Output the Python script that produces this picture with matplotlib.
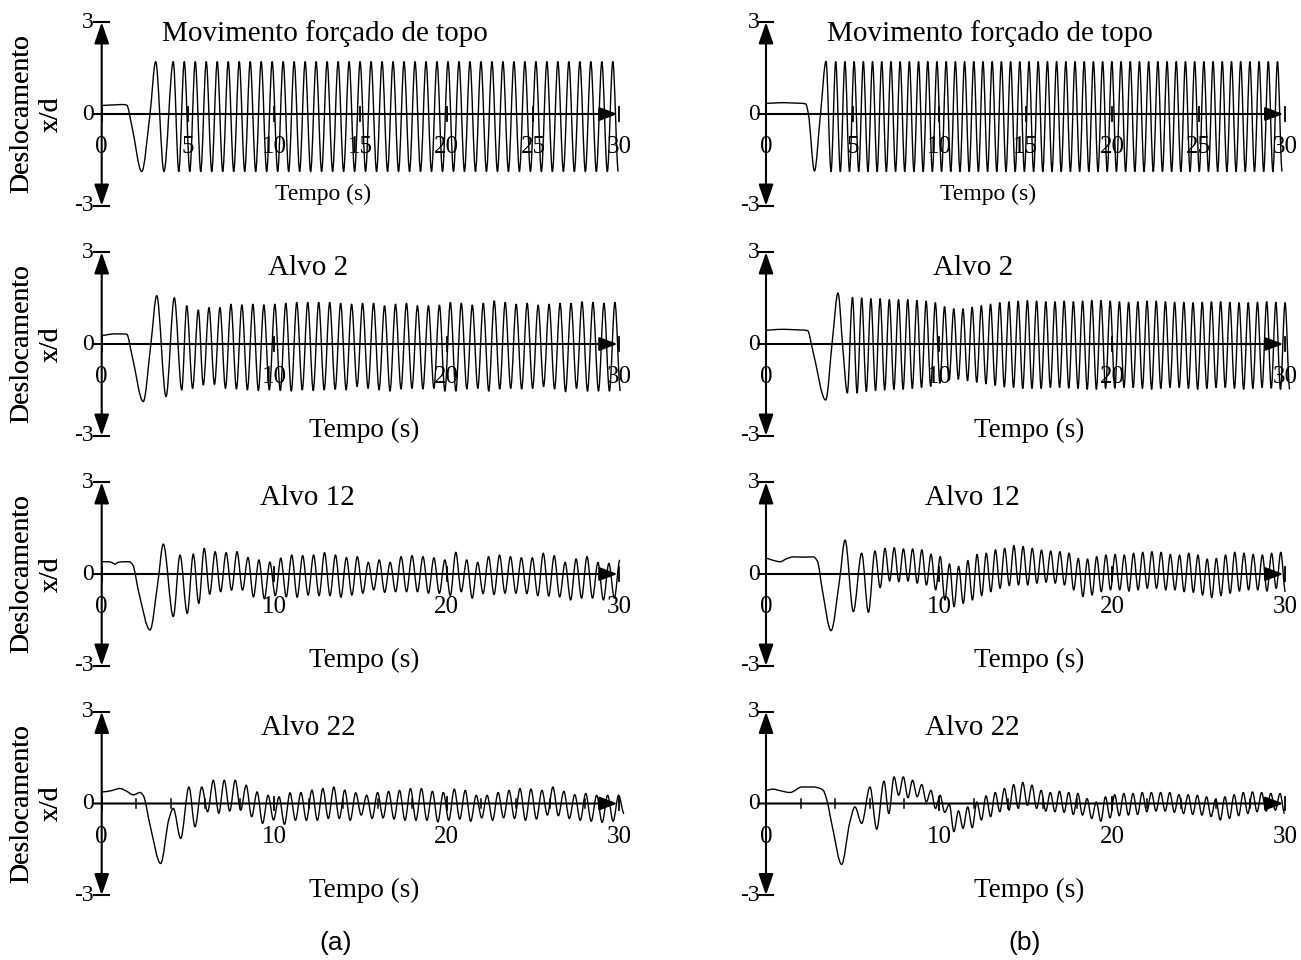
import numpy as np
import matplotlib
matplotlib.use('Agg')
import matplotlib.pyplot as plt
from matplotlib.path import Path
from matplotlib.patches import PathPatch

# ================= DATA =================
# Each panel: transient points (t, x/d), then regular cycles starting at a peak
# at time ts with period P; peaks[i] and troughs[i] (trough follows the peak).

# ---- (a) Movimento forçado de topo
a1_tr_t = [0.0, 0.4, 0.8, 1.2, 1.45, 1.75, 2.32, 2.8, 3.13, 3.61]
a1_tr_x = [0.28, 0.29, 0.30, 0.31, 0.29, -0.4, -1.88, 0.0, 1.71, -1.88]
a1_ts, a1_P = 4.15, 0.637
a1_pk = [1.71, 1.71, 1.71, 1.71, 1.71, 1.71, 1.71, 1.71, 1.71, 1.71,
         1.71, 1.71, 1.71, 1.71, 1.71, 1.71, 1.71, 1.71, 1.71, 1.71,
         1.71, 1.71, 1.71, 1.71, 1.71, 1.71, 1.71, 1.71, 1.71, 1.71,
         1.71, 1.71, 1.71, 1.71, 1.71, 1.71, 1.71, 1.71, 1.71, 1.71, 1.71]
a1_tg = [-1.88, -1.88, -1.88, -1.88, -1.88, -1.88, -1.88, -1.88, -1.88, -1.88,
         -1.88, -1.88, -1.88, -1.88, -1.88, -1.88, -1.88, -1.88, -1.88, -1.88,
         -1.88, -1.88, -1.88, -1.88, -1.88, -1.88, -1.88, -1.88, -1.88, -1.88,
         -1.88, -1.88, -1.88, -1.88, -1.88, -1.88, -1.88, -1.88, -1.88, -1.88, -1.88]

# ---- (a) Alvo 2
a2_tr_t = [0.0, 0.3, 0.7, 1.1, 1.45, 1.75, 2.41, 2.85, 3.19, 3.73, 4.21, 4.64, 4.93, 5.27,
           5.6, 5.89]
a2_tr_x = [0.28, 0.30, 0.33, 0.33, 0.32, -0.35, -1.88, 0.0, 1.58, -1.72, 1.51, -1.50, 1.25,
           -1.45, 1.11, -1.34]
a2_ts, a2_P = 6.22, 0.636
a2_pk = [1.19, 1.19, 1.30, 1.28, 1.30, 1.28, 1.30, 1.33, 1.36, 1.36, 1.36, 1.36, 1.33, 1.30,
         1.33, 1.33, 1.25, 1.30, 1.33, 1.25, 1.25, 1.27, 1.36, 1.33, 1.27, 1.33, 1.41, 1.36,
         1.30, 1.33, 1.27, 1.30, 1.33, 1.33, 1.38, 1.36, 1.33, 1.36]
a2_tg = [-1.32, -1.45, -1.47, -1.50, -1.52, -1.50, -1.52, -1.54, -1.50, -1.52, -1.50, -1.48,
         -1.50, -1.39, -1.45, -1.50, -1.54, -1.47, -1.45, -1.47, -1.45, -1.54, -1.54, -1.47,
         -1.45, -1.54, -1.47, -1.45, -1.47, -1.45, -1.39, -1.47, -1.56, -1.45, -1.54, -1.54,
         -1.54, -1.54]

# ---- (a) Alvo 12
a3_tr_t = [0.0, 0.4, 0.65, 0.77, 0.95, 1.3, 1.6, 1.8, 2.15, 2.8, 3.25, 3.57, 4.15, 4.54,
           4.96]
a3_tr_x = [0.40, 0.40, 0.36, 0.32, 0.38, 0.40, 0.40, 0.30, -0.6, -1.83, -0.3, 0.98, -1.39,
           0.62, -1.29]
a3_ts, a3_P = 5.31, 0.634
a3_pk = [0.65, 0.84, 0.73, 0.70, 0.73, 0.54, 0.46, 0.39, 0.52, 0.62, 0.60, 0.62, 0.70, 0.62,
         0.54, 0.57, 0.38, 0.46, 0.38, 0.57, 0.60, 0.57, 0.53, 0.46, 0.71, 0.46, 0.38, 0.57,
         0.62, 0.57, 0.53, 0.53, 0.68, 0.60, 0.38, 0.49, 0.57, 0.38, 0.35, 0.46]
a3_tg = [-0.96, -0.66, -0.58, -0.53, -0.53, -0.75, -0.81, -0.71, -0.75, -0.76, -0.69, -0.71,
         -0.71, -0.76, -0.69, -0.63, -0.52, -0.60, -0.58, -0.58, -0.58, -0.63, -0.63, -0.71,
         -0.58, -0.79, -0.64, -0.67, -0.63, -0.63, -0.64, -0.71, -0.72, -0.75, -0.85, -0.79,
         -0.79, -0.85, -0.79]

# ---- (a) Alvo 22
a4_tr_t = [0.0, 0.48, 1.06, 1.45, 1.83, 2.22, 2.42, 2.8, 3.42, 3.9, 4.15, 4.58, 5.06, 5.41,
           5.8, 6.14]
a4_tr_x = [0.38, 0.41, 0.49, 0.40, 0.28, 0.36, 0.25, -0.7, -1.96, -0.5, -0.16, -1.14, 0.54,
           -0.76, 0.54, -0.27]
a4_ts, a4_P = 6.47, 0.635
a4_pk = [0.76, 0.76, 0.76, 0.60, 0.38, 0.27, 0.22, 0.35, 0.36, 0.44, 0.49, 0.54, 0.44, 0.35,
         0.27, 0.36, 0.40, 0.43, 0.49, 0.49, 0.40, 0.36, 0.47, 0.43, 0.27, 0.27, 0.36, 0.43,
         0.49, 0.47, 0.43, 0.54, 0.40, 0.29, 0.33, 0.27, 0.27, 0.27]
a4_tg = [-0.32, -0.25, -0.22, -0.43, -0.65, -0.54, -0.68, -0.55, -0.55, -0.55, -0.49, -0.49,
         -0.55, -0.38, -0.49, -0.47, -0.51, -0.55, -0.55, -0.55, -0.60, -0.55, -0.51, -0.58,
         -0.47, -0.55, -0.47, -0.49, -0.55, -0.51, -0.38, -0.40, -0.49, -0.55, -0.58, -0.62,
         -0.58, -0.33]

# ---- (b) Movimento forçado de topo
b1_tr_t = [0.0, 0.5, 1.0, 1.5, 2.0, 2.3, 2.45, 2.8, 3.15, 3.47, 3.76]
b1_tr_x = [0.35, 0.36, 0.37, 0.36, 0.35, 0.33, 0.0, -1.86, 0.0, 1.72, -1.88]
b1_ts, b1_P = 4.03, 0.532
b1_pk = [1.71, 1.71, 1.71, 1.71, 1.71, 1.71, 1.71, 1.71, 1.71, 1.71,
         1.71, 1.71, 1.71, 1.71, 1.71, 1.71, 1.71, 1.71, 1.71, 1.71,
         1.71, 1.71, 1.71, 1.71, 1.71, 1.71, 1.71, 1.71, 1.71, 1.71,
         1.71, 1.71, 1.71, 1.71, 1.71, 1.71, 1.71, 1.71, 1.71, 1.71,
         1.71, 1.71, 1.71, 1.71, 1.71, 1.71, 1.71, 1.71, 1.71]
b1_tg = [-1.88, -1.88, -1.88, -1.88, -1.88, -1.88, -1.88, -1.88, -1.88, -1.88,
         -1.88, -1.88, -1.88, -1.88, -1.88, -1.88, -1.88, -1.88, -1.88, -1.88,
         -1.88, -1.88, -1.88, -1.88, -1.88, -1.88, -1.88, -1.88, -1.88, -1.88,
         -1.88, -1.88, -1.88, -1.88, -1.88, -1.88, -1.88, -1.88, -1.88, -1.88,
         -1.88, -1.88, -1.88, -1.88, -1.88, -1.88, -1.88, -1.88, -1.88]

# ---- (b) Alvo 2
b2_tr_t = [0.0, 0.5, 1.0, 1.5, 2.0, 2.4, 2.7, 3.45, 3.85, 4.16, 4.45, 4.7]
b2_tr_x = [0.45, 0.47, 0.48, 0.47, 0.46, 0.44, -0.2, -1.83, 0.2, 1.67, -0.2, -1.60]
b2_ts, b2_P = 5.0, 0.532
b2_pk = [1.52, 1.50, 1.48, 1.48, 1.45, 1.45, 1.45, 1.42, 1.40, 1.35, 1.22, 1.15, 1.15, 1.20,
         1.25, 1.30, 1.35, 1.38, 1.40, 1.42, 1.40, 1.38, 1.38, 1.40, 1.38, 1.40, 1.42, 1.42,
         1.40, 1.38, 1.36, 1.38, 1.40, 1.40, 1.38, 1.36, 1.36, 1.35, 1.36, 1.38, 1.38, 1.36,
         1.35, 1.35, 1.36, 1.38, 1.36, 1.35]
b2_tg = [-1.60, -1.55, -1.52, -1.50, -1.48, -1.48, -1.45, -1.42, -1.38, -1.28, -1.18, -1.15,
         -1.20, -1.25, -1.30, -1.35, -1.40, -1.42, -1.45, -1.45, -1.45, -1.42, -1.42, -1.44,
         -1.45, -1.48, -1.48, -1.45, -1.44, -1.42, -1.42, -1.45, -1.48, -1.45, -1.42, -1.42,
         -1.45, -1.48, -1.45, -1.42, -1.42, -1.45, -1.48, -1.45, -1.42, -1.44, -1.48, -1.48]

# ---- (b) Alvo 12
b3_tr_t = [0.0, 0.4, 0.81, 1.2, 1.58, 2.2, 2.73, 2.97, 3.25, 3.76, 4.25, 4.57, 5.05, 5.53,
           5.92, 6.3, 6.6]
b3_tr_x = [0.51, 0.45, 0.40, 0.50, 0.56, 0.55, 0.56, 0.42, -0.5, -1.85, -0.2, 1.11, -1.23,
           0.68, -1.25, 0.75, -0.45]
b3_ts, b3_P = 6.88, 0.532
b3_pk = [0.84, 0.86, 0.82, 0.82, 0.79, 0.65, 0.57, 0.33, 0.25, 0.44, 0.64, 0.68, 0.79, 0.84,
         0.93, 0.90, 0.84, 0.78, 0.75, 0.73, 0.68, 0.51, 0.49, 0.57, 0.62, 0.64, 0.62, 0.68,
         0.71, 0.73, 0.71, 0.64, 0.62, 0.68, 0.62, 0.49, 0.51, 0.62, 0.71, 0.68, 0.64, 0.62,
         0.68, 0.71]
b3_tg = [-0.23, -0.25, -0.23, -0.30, -0.36, -0.52, -0.85, -1.07, -0.96, -0.85, -0.71, -0.58,
         -0.47, -0.38, -0.36, -0.36, -0.30, -0.27, -0.30, -0.36, -0.52, -0.74, -0.69, -0.58,
         -0.52, -0.52, -0.56, -0.52, -0.47, -0.47, -0.52, -0.52, -0.58, -0.60, -0.69, -0.77,
         -0.71, -0.63, -0.56, -0.52, -0.52, -0.56, -0.47, -0.58]

# ---- (b) Alvo 22
b4_tr_t = [0.0, 0.4, 0.8, 1.39, 2.08, 2.73, 3.1, 3.31, 3.5, 3.85, 4.37, 4.85, 5.14, 5.53,
           6.01, 6.4, 6.82, 7.1, 7.4, 7.67]
b4_tr_x = [0.43, 0.47, 0.42, 0.36, 0.54, 0.54, 0.50, 0.43, 0.15, -0.8, -1.99, -0.6, -0.11,
           -0.65, 0.54, -0.84, 0.73, -0.33, 0.87, 0.27]
b4_ts, b4_P = 7.94, 0.531
b4_pk = [0.87, 0.76, 0.62, 0.43, 0.27, -0.02, -0.24, -0.11, 0.05, 0.25, 0.36, 0.49, 0.62,
         0.69, 0.60, 0.43, 0.36, 0.40, 0.36, 0.33, 0.16, 0.05, 0.22, 0.29, 0.33, 0.33, 0.36,
         0.36, 0.36, 0.36, 0.29, 0.29, 0.27, 0.22, 0.14, 0.22, 0.29, 0.36, 0.38, 0.36, 0.33,
         0.33]
b4_tg = [0.19, 0.22, 0.05, -0.16, -0.29, -0.92, -0.81, -0.79, -0.54, -0.43, -0.27, -0.22,
         -0.16, -0.06, -0.16, -0.25, -0.27, -0.29, -0.36, -0.38, -0.49, -0.58, -0.47, -0.40,
         -0.38, -0.36, -0.27, -0.25, -0.25, -0.29, -0.33, -0.36, -0.38, -0.43, -0.54, -0.49,
         -0.40, -0.33, -0.27, -0.25, -0.22, -0.33]

titles = ['Movimento forçado de topo', 'Alvo 2', 'Alvo 12', 'Alvo 22']
ticks_top = [0, 5, 10, 15, 20, 25, 30]
ticks_other = [0, 10, 20, 30]
minor_bottom = [2, 4, 6, 8, 12, 14, 16, 18, 22, 24, 26, 28]
ytick_vals = [3, 0, -3]
ytick_txt = ['3', '0', '-3']
xlabel = 'Tempo (s)'
ylabel1 = 'Deslocamento'
ylabel2 = 'x/d'
col_labels = ['(a)', '(b)']

panels = [
    [(a1_tr_t, a1_tr_x, a1_ts, a1_P, a1_pk, a1_tg),
     (a2_tr_t, a2_tr_x, a2_ts, a2_P, a2_pk, a2_tg),
     (a3_tr_t, a3_tr_x, a3_ts, a3_P, a3_pk, a3_tg),
     (a4_tr_t, a4_tr_x, a4_ts, a4_P, a4_pk, a4_tg)],
    [(b1_tr_t, b1_tr_x, b1_ts, b1_P, b1_pk, b1_tg),
     (b2_tr_t, b2_tr_x, b2_ts, b2_P, b2_pk, b2_tg),
     (b3_tr_t, b3_tr_x, b3_ts, b3_P, b3_pk, b3_tg),
     (b4_tr_t, b4_tr_x, b4_ts, b4_P, b4_pk, b4_tg)],
]


def build(tr_t, tr_x, ts, P, pk, tg):
    t = list(tr_t)
    x = list(tr_x)
    for i, p in enumerate(pk):
        t.append(ts + i * P)
        x.append(p)
        if i < len(tg):
            t.append(ts + i * P + P / 2)
            x.append(tg[i])
    return np.array(t, float), np.array(x, float)


def smooth_path(t, x):
    """Shape-preserving cubic Bezier path through the data points."""
    n = len(t)
    h = np.diff(t)
    d = np.diff(x) / h
    m = np.zeros(n)
    for i in range(1, n - 1):
        if d[i - 1] * d[i] > 0:
            w1 = 2 * h[i] + h[i - 1]
            w2 = h[i] + 2 * h[i - 1]
            m[i] = (w1 + w2) / (w1 / d[i - 1] + w2 / d[i])
    verts = [(t[0], x[0])]
    codes = [Path.MOVETO]
    for i in range(n - 1):
        verts += [(t[i] + h[i] / 3, x[i] + m[i] * h[i] / 3),
                  (t[i + 1] - h[i] / 3, x[i + 1] - m[i + 1] * h[i] / 3),
                  (t[i + 1], x[i + 1])]
        codes += [Path.CURVE4] * 3
    return Path(np.array(verts), codes)


# ================= LAYOUT =================
W, H = 1301, 960
fig = plt.figure(figsize=(W / 100, H / 100), dpi=100)
SERIF = 'Liberation Serif'

col_x0 = [101.7, 766.0]   # pixel of t = 0
col_sx = [17.25, 17.3]    # pixels per second
row_y0 = [114.0, 344.0, 574.0, 803.5]  # pixel of x/d = 0
sy = 30.6                 # pixels per unit x/d
ytick_xoff = [-0.48, -0.35]

XL, XR, YB, YT = -6.0, 32.0, -3.6, 3.6

for c in range(2):
    for r in range(4):
        x0, sx, y0 = col_x0[c], col_sx[c], row_y0[r]
        left = (x0 + XL * sx) / W
        width = (XR - XL) * sx / W
        bottom = 1 - (y0 - YB * sy) / H
        height = (YT - YB) * sy / H
        ax = fig.add_axes([left, bottom, width, height])
        ax.set_xlim(XL, XR)
        ax.set_ylim(YB, YT)
        ax.axis('off')

        # tick labels (drawn below the curve)
        ticks = ticks_top if r == 0 else ticks_other
        for tv in ticks:
            ax.text(tv, -1.28, str(tv), ha='center', va='baseline', fontsize=18,
                    family=SERIF, zorder=1)
        for yv, ys in zip(ytick_vals, ytick_txt):
            ax.text(ytick_xoff[c], yv, ys, ha='right', va='center', fontsize=17,
                    family=SERIF, zorder=1)

        # axes with arrows
        ax.annotate('', xy=(0, 3.0), xytext=(0, -3.0),
                    arrowprops=dict(arrowstyle='<|-|>,head_length=1.3,head_width=0.45',
                                    lw=1.5, color='black', shrinkA=0, shrinkB=0,
                                    mutation_scale=10), zorder=2)
        ax.plot([-0.42, 0.42], [3.0, 3.0], color='black', lw=1.5, zorder=2)
        ax.plot([-0.42, 0.42], [-3.0, -3.0], color='black', lw=1.5, zorder=2)
        ax.annotate('', xy=(29.9, 0), xytext=(-0.45, 0),
                    arrowprops=dict(arrowstyle='-|>,head_length=1.1,head_width=0.42',
                                    lw=1.5, color='black', shrinkA=0, shrinkB=0,
                                    mutation_scale=10), zorder=2)
        for tv in ticks:
            ax.plot([tv, tv], [-0.22, 0.22], color='black', lw=1.3, zorder=2)
        if r == 3:
            for tv in minor_bottom:
                ax.plot([tv, tv], [-0.16, 0.16], color='black', lw=1.1, zorder=2)

        # signal
        t, xd = build(*panels[c][r])
        ax.add_patch(PathPatch(smooth_path(t, xd), facecolor='none', edgecolor='black',
                               lw=1.0, zorder=3, joinstyle='round'))

        # texts
        if r == 0:
            ax.text(12.95, 2.39, titles[r], ha='center', va='baseline', fontsize=21,
                    family=SERIF)
            ax.text(12.86, -2.81, xlabel, ha='center', va='baseline', fontsize=17,
                    family=SERIF)
        else:
            ax.text(11.95, 2.25, titles[r], ha='center', va='baseline', fontsize=21,
                    family=SERIF)
            ax.text(15.2, -3.04, xlabel, ha='center', va='baseline', fontsize=19.5,
                    family=SERIF)
        ax.text((22 - x0) / sx, 0.0, ylabel1, rotation=90, ha='center', va='center',
                fontsize=20, family=SERIF)
        ax.text((51 - x0) / sx, 0.0, ylabel2, rotation=90, ha='center', va='center',
                fontsize=20, family=SERIF)

fig.text(336 / W, 1 - 943 / H, col_labels[0], ha='center', va='center', fontsize=19,
         family='Liberation Sans')
fig.text(1025 / W, 1 - 943 / H, col_labels[1], ha='center', va='center', fontsize=19,
         family='Liberation Sans')

fig.savefig('out.png', dpi=100)
